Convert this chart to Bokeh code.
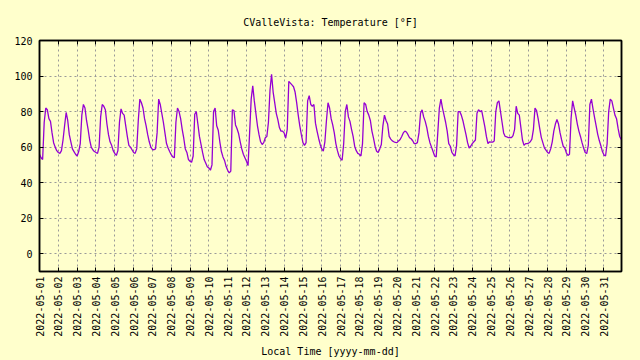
import numpy as np
import pandas as pd
from bokeh.plotting import figure
from bokeh.models import (Range1d, FixedTicker, DatetimeTickFormatter, LinearAxis,
                          CustomJSTickFormatter)
from bokeh.embed import file_html
from bokeh.resources import INLINE

title_text = "CValleVista: Temperature [°F]"
x_label = "Local Time [yyyy-mm-dd]"
start_time = "2022-05-01 00:00"
end_time = "2022-05-31 22:20"
sample_freq = "2h"
y_ticks = [0, 20, 40, 60, 80, 100, 120]
y_min, y_max = -10, 120
tick_days = ["2022-05-01", "2022-05-02", "2022-05-03", "2022-05-04", "2022-05-05",
             "2022-05-06", "2022-05-07", "2022-05-08", "2022-05-09", "2022-05-10",
             "2022-05-11", "2022-05-12", "2022-05-13", "2022-05-14", "2022-05-15",
             "2022-05-16", "2022-05-17", "2022-05-18", "2022-05-19", "2022-05-20",
             "2022-05-21", "2022-05-22", "2022-05-23", "2022-05-24", "2022-05-25",
             "2022-05-26", "2022-05-27", "2022-05-28", "2022-05-29", "2022-05-30",
             "2022-05-31"]

# temperatures every 2 hours (°F)
temps_week1 = [
    56, 54, 53, 74, 82, 81, 76, 74.5, 68, 62.5, 60, 58,
    57, 56.5, 58, 64, 72, 79.5, 75, 67, 63, 59, 57.5, 56,
    55, 57.5, 62, 78, 84, 82, 75, 70, 64, 60, 58.5, 57.5,
    57, 56.5, 60, 77, 84, 83, 81, 73, 67, 63, 61, 58,
    56.5, 55.3, 58, 74, 81.5, 79, 78, 72, 66, 61, 60, 58.5,
    57, 56.5, 59, 75, 87, 85, 82, 76, 72, 67, 63, 60,
    58.7, 58.5, 59, 68, 87, 84, 79, 74, 68, 62, 59.5, 57.5,
]
temps_week2 = [
    55.8, 54.5, 54, 74, 82, 80, 76, 70, 65, 59, 57, 53,
    52, 51.5, 55, 78.5, 80, 73, 66, 61.5, 57, 53, 51, 49,
    48.3, 47, 50, 80, 82, 72, 69.5, 63, 57.5, 54.5, 52.5, 49.2,
    47, 45.5, 46.5, 81, 80.5, 72.5, 70.3, 67.5, 63, 59, 56, 54,
    52, 49.6, 68, 87, 94.5, 86, 79, 72, 67, 63, 61.5, 62.5,
    65.3, 66, 74, 92, 101, 91, 85, 79, 75.5, 71, 69, 69,
    68, 65, 70, 97, 96, 95, 94, 91, 85, 78, 72, 67,
]
temps_week3 = [
    62.5, 61, 62.5, 86, 89, 84, 83, 84, 73.5, 69, 65, 61.5,
    59, 57.7, 63, 75, 85, 82, 76, 72.5, 68, 62, 58, 55,
    53.5, 52.6, 62, 80, 84, 77, 74.5, 70, 66, 60.5, 58, 56.5,
    56, 55, 62, 85, 84, 80, 78, 75, 69, 65, 60.5, 57.7,
    57, 59, 61.5, 72, 78, 75, 73, 66, 64.5, 63.5, 63, 62.7,
    62.5, 63.5, 64.3, 66, 68, 69, 68.5, 67, 65.3, 64.7, 63.6, 62,
    62, 62.5, 68, 79, 81, 77, 74.5, 71, 66, 62.5, 60, 57.5,
]
temps_week4 = [
    55, 54.5, 68, 82, 87, 82, 78, 74, 69, 62, 60.5, 57,
    55.8, 55, 61, 80, 80, 78, 75, 71, 67, 62.5, 59.5, 60.5,
    62, 63, 64, 79, 81, 80, 80.5, 76, 71.5, 66, 62, 63,
    62.8, 62.8, 63.4, 80, 85, 86, 80, 74, 68, 66, 65.8, 65.3,
    65.5, 65.3, 66.5, 70, 83, 79, 78, 71, 64, 61, 62, 62,
    62.3, 63, 64.5, 70, 82, 80.5, 76, 70.5, 65.5, 62.5, 59.6, 58.3,
    57, 56.5, 59, 63, 69, 73, 75.5, 73, 68, 64, 60.5, 59.5,
]
temps_week5 = [
    56.8, 55.3, 56, 76, 86, 82, 78, 73, 69, 66, 62.5, 59.5,
    57, 56.4, 61, 84, 87, 81.5, 76.6, 72, 67.2, 63.7, 60.8, 57.5,
    55.5, 55, 62, 80, 87, 86, 82, 78, 76, 70.5, 66, 64.3,
]

temps = temps_week1 + temps_week2 + temps_week3 + temps_week4 + temps_week5
times = pd.date_range(start_time, periods=len(temps), freq=sample_freq)
tick_ms = [pd.Timestamp(d).value / 1e6 for d in tick_days]

BG = "#ffffcc"
FONT = "DejaVu Sans Mono"

p = figure(width=640, height=360, x_axis_type="datetime",
           x_range=Range1d(pd.Timestamp(start_time), pd.Timestamp(end_time)),
           y_range=Range1d(y_min, y_max),
           output_backend="svg", toolbar_location=None,
           min_border_left=39, min_border_right=19, min_border_top=40,
           min_border_bottom=89,
           background_fill_color=BG, border_fill_color=BG)

p.line(times, temps, line_color="#9400d3", line_width=1.3)

p.title.text = title_text
p.title.align = "center"
p.title.text_font = FONT
p.title.text_font_size = "10px"
p.title.text_font_style = "normal"
p.title.text_color = "black"
p.title.standoff = 25

fmt = DatetimeTickFormatter(days="%Y-%m-%d", months="%Y-%m-%d", hours="%Y-%m-%d",
                            hourmin="%Y-%m-%d", years="%Y-%m-%d")
blank = CustomJSTickFormatter(code="return ''")
xticker = FixedTicker(ticks=tick_ms)
yticker = FixedTicker(ticks=y_ticks)

p.xaxis.ticker = xticker
p.xaxis.formatter = fmt
p.xaxis.major_label_orientation = np.pi / 2
p.xaxis.axis_label = x_label
p.yaxis.ticker = yticker

for ax in [p.xaxis[0], p.yaxis[0]]:
    ax.axis_line_color = "black"
    ax.axis_line_width = 1.5
    ax.major_tick_in = 4
    ax.major_tick_out = 0
    ax.major_tick_line_color = "black"
    ax.minor_tick_line_color = None
    ax.major_label_text_font = FONT
    ax.major_label_text_font_size = "10px"
    ax.major_label_text_color = "black"
    ax.axis_label_text_font = FONT
    ax.axis_label_text_font_size = "10px"
    ax.axis_label_text_font_style = "normal"
    ax.axis_label_text_color = "black"

p.yaxis.major_label_standoff = 7
p.xaxis.major_label_standoff = 5
p.xaxis.axis_label_standoff = 6

right = LinearAxis(ticker=yticker, formatter=blank,
                   major_label_standoff=0, major_tick_in=4, major_tick_out=0,
                   minor_tick_line_color=None, axis_line_color="black",
                   axis_line_width=1.5)
p.add_layout(right, "right")
top = LinearAxis(ticker=xticker, formatter=blank,
                 major_label_standoff=0, major_tick_in=4, major_tick_out=0,
                 minor_tick_line_color=None, axis_line_color="black",
                 axis_line_width=1.5)
p.add_layout(top, "above")

p.xgrid.ticker = xticker
p.ygrid.ticker = yticker
for g in [p.xgrid[0], p.ygrid[0]]:
    g.grid_line_color = "#999999"
    g.grid_line_dash = "2 3"
    g.grid_line_width = 1

p.outline_line_color = "black"
p.outline_line_width = 1.5

html = file_html(p, INLINE, title="CValleVista")
html = html.replace("<body>", '<body style="background-color:#ffffcc">')
open("out.html", "w").write(html)
